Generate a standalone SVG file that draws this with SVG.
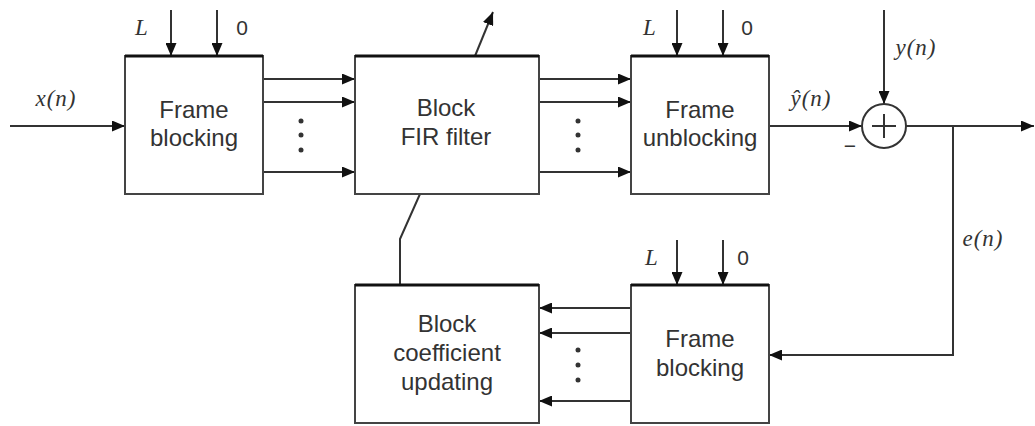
<svg xmlns="http://www.w3.org/2000/svg" width="1035" height="426" viewBox="0 0 1035 426">
<style>
.box{fill:#fff;stroke:#444;stroke-width:2}
.top{stroke:#111;stroke-width:3}
.lbl{font-family:"Liberation Sans",Arial,sans-serif;font-size:24px;fill:#333;text-anchor:middle}
.math{font-family:"Liberation Serif","Times New Roman",serif;font-style:italic;font-size:23px;fill:#333;text-anchor:middle;letter-spacing:1px}
.num{font-family:"Liberation Sans",Arial,sans-serif;font-size:21px;fill:#333;text-anchor:middle}
.ln{fill:none;stroke:#333;stroke-width:2}
.arr{marker-end:url(#ah)}
.dot{fill:#333}
</style>
<defs>
<marker id="ah" markerUnits="userSpaceOnUse" markerWidth="13" markerHeight="11" refX="13" refY="5.5" orient="auto">
<path d="M0,0 L13,5.5 L0,11 z" fill="#111"/>
</marker>
</defs>
<g id="connectors">
<path class="ln arr" d="M10,126 H125"/>
<path class="ln arr" d="M263,79 H355"/>
<path class="ln arr" d="M263,102 H355"/>
<path class="ln arr" d="M263,172 H355"/>
<path class="ln arr" d="M539,79 H631"/>
<path class="ln arr" d="M539,102 H631"/>
<path class="ln arr" d="M539,172 H631"/>
<path class="ln arr" d="M475,56 L493,12"/>
<path class="ln" d="M400,285 V239 L420,194"/>
<path class="ln arr" d="M769,126 H862"/>
<path class="ln arr" d="M884,10 V104"/>
<path class="ln arr" d="M906,126 H1034"/>
<path class="ln arr" d="M953,126 V355 H769"/>
<path class="ln arr" d="M631,308 H539"/>
<path class="ln arr" d="M631,333 H539"/>
<path class="ln arr" d="M631,401 H539"/>
<path class="ln arr" d="M171,10 V56"/>
<path class="ln arr" d="M217,10 V56"/>
<path class="ln arr" d="M677,10 V56"/>
<path class="ln arr" d="M723,10 V56"/>
<path class="ln arr" d="M677,240 V285"/>
<path class="ln arr" d="M723,240 V285"/>
<circle class="dot" cx="301" cy="121" r="2.5"/>
<circle class="dot" cx="301" cy="135" r="2.5"/>
<circle class="dot" cx="301" cy="150" r="2.5"/>
<circle class="dot" cx="578" cy="121" r="2.5"/>
<circle class="dot" cx="578" cy="135" r="2.5"/>
<circle class="dot" cx="578" cy="150" r="2.5"/>
<circle class="dot" cx="578" cy="350" r="2.5"/>
<circle class="dot" cx="578" cy="365" r="2.5"/>
<circle class="dot" cx="578" cy="380" r="2.5"/>
<text class="math" x="56" y="106">x(n)</text>
<text class="math" x="811" y="106">ŷ(n)</text>
<text class="math" x="916" y="55">y(n)</text>
<text class="math" x="983" y="246">e(n)</text>
<text class="num" x="850" y="153">−</text>
</g>
<g id="frame-blocking-1">
<rect class="box" x="125" y="56" width="138" height="138"/>
<path class="top" d="M125,56 H263"/>
<text class="lbl" x="194" y="118">Frame</text>
<text class="lbl" x="194" y="146">blocking</text>
<text class="math" x="142" y="35">L</text>
<text class="num" x="242" y="35">0</text>
</g>
<g id="block-fir-filter">
<rect class="box" x="355" y="56" width="184" height="138"/>
<path class="top" d="M355,56 H539"/>
<text class="lbl" x="446" y="116">Block</text>
<text class="lbl" x="446" y="145">FIR filter</text>
</g>
<g id="frame-unblocking">
<rect class="box" x="631" y="56" width="138" height="138"/>
<path class="top" d="M631,56 H769"/>
<text class="lbl" x="700" y="118">Frame</text>
<text class="lbl" x="700" y="146">unblocking</text>
<text class="math" x="650" y="35">L</text>
<text class="num" x="747" y="35">0</text>
</g>
<g id="summing-junction">
<circle cx="884" cy="126" r="22" fill="#fff" stroke="#333" stroke-width="2"/>
<path class="ln" d="M872,126 H896 M884,114 V138"/>
</g>
<g id="frame-blocking-2">
<rect class="box" x="631" y="285" width="138" height="138"/>
<path class="top" d="M631,285 H769"/>
<text class="lbl" x="700" y="347">Frame</text>
<text class="lbl" x="700" y="376">blocking</text>
<text class="math" x="652" y="265">L</text>
<text class="num" x="743" y="265">0</text>
</g>
<g id="block-coefficient-updating">
<rect class="box" x="355" y="285" width="184" height="138"/>
<path class="top" d="M355,285 H539"/>
<text class="lbl" x="447" y="332">Block</text>
<text class="lbl" x="447" y="361">coefficient</text>
<text class="lbl" x="447" y="390">updating</text>
</g>
</svg>
